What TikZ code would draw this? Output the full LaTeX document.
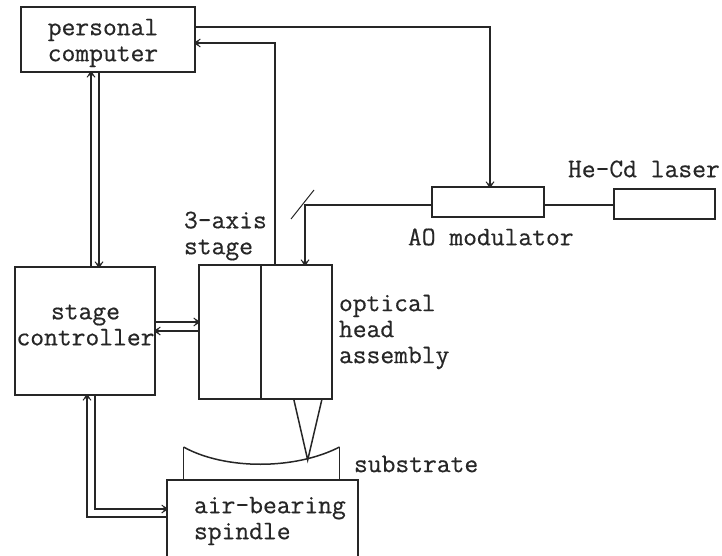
\documentclass[tikz,border=0pt]{standalone}
\usepackage{fontspec}
\setmonofont{Latin Modern Mono}[FakeBold=0.5]
\usetikzlibrary{arrows.meta}
\tikzset{
  box/.style={draw=black!85,line width=1.5pt,rectangle,inner sep=0pt,outer sep=0pt},
  wire/.style={draw=black!85,line width=1.5pt},
  tipped/.style={wire,-{Straight Barb[length=5pt,width=8pt,line width=1pt,sep=-5pt]Circle[length=4.5pt,width=4.5pt]}},
  lbl/.style={inner sep=0pt,outer sep=0pt,align=left,text=black!85,font=\fontsize{26.8}{26}\selectfont\ttfamily},
  lblc/.style={lbl,align=center}
}
\begin{document}
\begin{tikzpicture}[x=1pt,y=-1pt]
\useasboundingbox (0,0) rectangle (722,556);
\node[box,minimum width=174pt,minimum height=65pt] (pc) at (108,39.5) {};
\node[box,minimum width=140pt,minimum height=128pt] (ctrl) at (85,331) {};
\node[box,minimum width=133pt,minimum height=134pt] (stage) at (265.5,332) {};
\node[box,minimum width=112pt,minimum height=30pt] (ao) at (488,202) {};
\node[box,minimum width=101pt,minimum height=30pt] (laser) at (664.5,204) {};
\node[box,minimum width=191pt,minimum height=77pt] (spindle) at (262.5,518.5) {};
\draw[wire] ([xshift=-4.5pt]stage.north) -- ([xshift=-4.5pt]stage.south);

\node[lblc] (tpc) at (103,43) {personal\\computer};
\node[lblc] (tctrl) at (85.5,325) {stage\\controller};
\node[lbl,anchor=west] (taxis) at (184,236) {3-axis\\stage};
\node[lbl,anchor=west] (thead) at (339,332) {optical\\head\\assembly};
\node[lbl,anchor=west] (tsub) at (354,464) {substrate};
\node[lbl,anchor=west] (tair) at (194,521) {air-bearing\\spindle};
\node[lbl,anchor=west] (tlaser) at (568,169) {He-Cd laser};
\node[lbl,anchor=west] (tao) at (408,237) {AO modulator};

\draw[tipped] ([yshift=12.5pt]pc.east) -| ([xshift=2pt]ao.north);
\draw[tipped] ([xshift=9.5pt]stage.north) |- ([yshift=-3.5pt]pc.east);
\draw[tipped] ([xshift=6pt]ctrl.north) -- ([xshift=-17pt]pc.south);
\draw[tipped] ([xshift=-9pt]pc.south) -- ([xshift=14pt]ctrl.north);
\draw[tipped] ([yshift=9pt]ctrl.east) -- ([yshift=10pt]stage.west);
\draw[tipped] ([yshift=1pt]stage.west) -- ([yshift=0pt]ctrl.east);
\draw[tipped] ([xshift=10pt]ctrl.south) |- ([yshift=9.5pt]spindle.west);
\draw[tipped] ([yshift=1.5pt]spindle.west) -| ([xshift=2pt]ctrl.south);
\draw[wire] ([yshift=-3pt]ao.east) -- ([yshift=-1pt]laser.west);
\coordinate (mirrorA) at (291,219);
\coordinate (mirrorB) at (314,190);
\draw[wire,line width=1pt] (mirrorA) -- (mirrorB);
\draw[tipped] ([yshift=-3pt]ao.west) -| ([xshift=39.5pt]stage.north);
\coordinate (focus) at (307.7,460);
\draw[wire] ([xshift=28.2pt]stage.south) -- (focus) -- ([xshift=56.5pt]stage.south);
\draw[wire] ([xshift=-79pt]spindle.north) -- ++(0,-33) coordinate (subL);
\draw[wire] ([xshift=77pt]spindle.north) -- ++(0,-33) coordinate (subR);
\draw[wire] (subL) .. controls (225,470) and (295,470) .. (subR);
\end{tikzpicture}
\end{document}
